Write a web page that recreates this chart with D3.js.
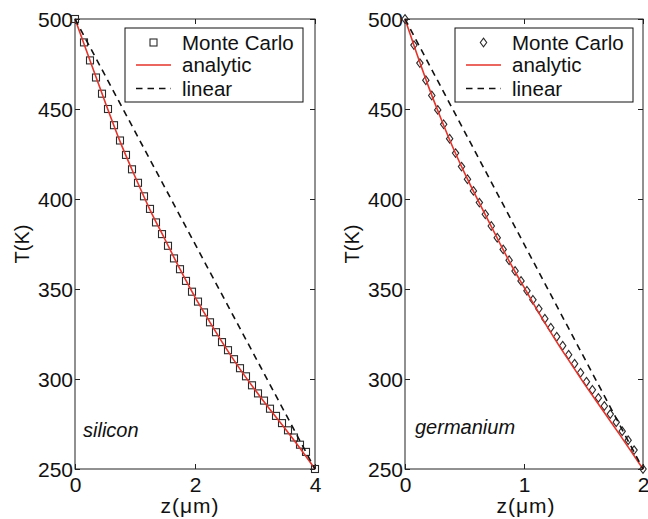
<!DOCTYPE html>
<html>
<head>
<meta charset="utf-8">
<script src="https://cdn.jsdelivr.net/npm/d3@7"></script>
<style>
  html, body { margin: 0; padding: 0; background: #fff; }
  svg { display: block; }
  text { font-family: "Liberation Sans", Arial, Helvetica, sans-serif; fill: #111; }
</style>
</head>
<body>
<svg id="chart" width="648" height="519"></svg>
<script>
// ---------------- data ----------------
const yTicks = [250, 300, 350, 400, 450, 500];

// silicon panel
const siXTicks = [0, 2, 4];
const siMcZ = [0, 0.15, 0.25, 0.35, 0.45, 0.55, 0.65, 0.75, 0.85, 0.95, 1.05, 1.15, 1.25, 1.35, 1.45, 1.55, 1.65, 1.75, 1.85, 1.95,
               2.05, 2.15, 2.25, 2.35, 2.45, 2.55, 2.65, 2.75, 2.85, 2.95, 3.05, 3.15, 3.25, 3.35, 3.45, 3.55, 3.65, 3.75, 3.85, 4.0];
const siMcT = [500, 487, 477, 467.5, 458.5, 450, 441, 432.5, 424.5, 416.5, 409, 401.5, 394.5, 387, 380.5, 374, 367, 361, 354.5, 348.5,
               343, 337, 331.5, 326, 320.5, 316, 311, 306, 301.5, 296.5, 292, 288, 283.5, 279.5, 275.5, 271.5, 267.5, 263.5, 259.5, 250];
const siAnZ = [0, 0.25, 0.5, 0.75, 1.0, 1.25, 1.5, 1.75, 2.0, 2.25, 2.5, 2.75, 3.0, 3.25, 3.5, 3.75, 4.0];
const siAnT = [500, 477, 454, 432, 412.5, 394, 377.5, 361, 345.5, 331.5, 318, 305.5, 294, 283, 272.5, 261.5, 250];
const siLinZ = [0, 4];
const siLinT = [500, 250];

// germanium panel
const geXTicks = [0, 1, 2];
const geMcZ = [0, 0.075, 0.125, 0.175, 0.225, 0.275, 0.325, 0.375, 0.425, 0.475, 0.525, 0.575, 0.625, 0.675, 0.725, 0.775, 0.825, 0.875, 0.925, 0.975,
               1.025, 1.075, 1.125, 1.175, 1.225, 1.275, 1.325, 1.375, 1.425, 1.475, 1.525, 1.575, 1.625, 1.675, 1.725, 1.775, 1.825, 1.875, 1.925, 2.0];
const geMcT = [500, 485.5, 475.5, 466, 457.5, 449.5, 441.5, 433.5, 425.5, 418, 411, 404.5, 398, 391.5, 385, 378.5, 372, 366, 360, 354.5,
               349, 344, 339, 333.5, 328.5, 323.5, 318.5, 313.5, 308.5, 303.5, 298.5, 294, 289.5, 285, 280.5, 276, 271, 266, 260.5, 250];
const geAnZ = [0, 0.1, 0.2, 0.3, 0.4, 0.5, 0.6, 0.7, 0.8, 0.9, 1.0, 1.1, 1.2, 1.3, 1.4, 1.5, 1.6, 1.7, 1.8, 1.9, 2.0];
const geAnT = [500, 480.5, 462, 445, 429, 414.5, 401, 388, 375, 362.5, 351, 339.5, 328.5, 318, 308, 298, 288.5, 279, 269.5, 259.8, 250];
const geLinZ = [0, 2];
const geLinT = [500, 250];

const legendLabels = ["Monte Carlo", "analytic", "linear"];

// ---------------- drawing ----------------
const svg = d3.select("#chart");
const RED = "#e5332a";
const AX = "#222";

const panels = [
  { x0: 75, x1: 315, zMax: 4, xTicks: siXTicks, mcZ: siMcZ, mcT: siMcT, anZ: siAnZ, anT: siAnT, linZ: siLinZ, linT: siLinT,
    marker: "square", name: "silicon", nameX: 83, nameY: 437, xLabelX: 190, yLabelX: 29 },
  { x0: 405, x1: 643, zMax: 2, xTicks: geXTicks, mcZ: geMcZ, mcT: geMcT, anZ: geAnZ, anT: geAnT, linZ: geLinZ, linT: geLinT,
    marker: "diamond", name: "germanium", nameX: 415, nameY: 434, xLabelX: 526, yLabelX: 359 }
];
const yTop = 19, yBot = 469;

panels.forEach(p => {
  const x = d3.scaleLinear().domain([0, p.zMax]).range([p.x0, p.x1]);
  const y = d3.scaleLinear().domain([250, 500]).range([yBot, yTop]);
  const g = svg.append("g");

  // frame
  g.append("rect").attr("x", p.x0).attr("y", yTop).attr("width", p.x1 - p.x0).attr("height", yBot - yTop)
    .attr("fill", "none").attr("stroke", AX).attr("stroke-width", 1);

  // axes with inward ticks
  const tl = 5;
  const bottom = g.append("g").attr("transform", `translate(0,${yBot})`)
    .call(d3.axisBottom(x).tickValues(p.xTicks).tickSize(-tl).tickPadding(8).tickFormat(d3.format("d")));
  const top = g.append("g").attr("transform", `translate(0,${yTop})`)
    .call(d3.axisTop(x).tickValues(p.xTicks).tickSize(-tl).tickFormat(""));
  const left = g.append("g").attr("transform", `translate(${p.x0},0)`)
    .call(d3.axisLeft(y).tickValues(yTicks).tickSize(-tl).tickPadding(3).tickFormat(d3.format("d")));
  const right = g.append("g").attr("transform", `translate(${p.x1},0)`)
    .call(d3.axisRight(y).tickValues(yTicks).tickSize(-tl).tickFormat(""));
  [bottom, top, left, right].forEach(a => {
    a.select(".domain").remove();
    a.selectAll(".tick line").attr("stroke", AX);
    a.selectAll("text").attr("font-family", "Liberation Sans, Arial, sans-serif").attr("font-size", 21).attr("fill", "#111");
  });
  bottom.selectAll("text").attr("dy", null).attr("y", 23);
  left.selectAll("text").attr("dy", "0.36em").attr("x", -2);

  // Monte Carlo markers
  const mc = p.mcZ.map((z, i) => [z, p.mcT[i]]);
  const drawMarker = (sel, cx, cy) => {
    if (p.marker === "square") {
      sel.append("rect").attr("x", cx - 3.5).attr("y", cy - 3.5).attr("width", 7).attr("height", 7)
        .attr("fill", "none").attr("stroke", "#2a2a2a").attr("stroke-width", 1.1);
    } else {
      sel.append("path").attr("d", `M${cx},${cy - 4.3}L${cx + 3.2},${cy}L${cx},${cy + 4.3}L${cx - 3.2},${cy}Z`)
        .attr("fill", "none").attr("stroke", "#2a2a2a").attr("stroke-width", 1.1);
    }
  };
  const mg = g.append("g");
  mc.forEach(d => drawMarker(mg, x(d[0]), y(d[1])));

  // analytic
  const line = d3.line().x(d => x(d[0])).y(d => y(d[1]));
  g.append("path").datum(p.anZ.map((z, i) => [z, p.anT[i]]))
    .attr("d", line.curve(d3.curveMonotoneX)).attr("fill", "none").attr("stroke", RED).attr("stroke-width", 1.6);

  // linear
  g.append("path").datum(p.linZ.map((z, i) => [z, p.linT[i]]))
    .attr("d", d3.line().x(d => x(d[0])).y(d => y(d[1]))).attr("fill", "none")
    .attr("stroke", "#111").attr("stroke-width", 1.6).attr("stroke-dasharray", "6.5,5");

  // legend
  const lx = p.x0 + 50, ly = 28, lw = 178, lh = 74;
  const lg = g.append("g");
  lg.append("rect").attr("x", lx).attr("y", ly).attr("width", lw).attr("height", lh)
    .attr("fill", "#fff").attr("stroke", "#111").attr("stroke-width", 1);
  const rows = [14.5, 37, 60.5];
  drawMarker(lg, lx + 28.5, ly + rows[0]);
  lg.append("line").attr("x1", lx + 11).attr("x2", lx + 46).attr("y1", ly + rows[1]).attr("y2", ly + rows[1])
    .attr("stroke", RED).attr("stroke-width", 1.6);
  lg.append("line").attr("x1", lx + 11).attr("x2", lx + 46).attr("y1", ly + rows[2]).attr("y2", ly + rows[2])
    .attr("stroke", "#111").attr("stroke-width", 1.6).attr("stroke-dasharray", "6.5,5");
  legendLabels.forEach((t, i) => {
    lg.append("text").attr("x", lx + 57).attr("y", ly + rows[i]).attr("dy", "0.36em")
      .attr("font-size", 20.5).text(t);
  });

  // material label
  g.append("text").attr("x", p.nameX).attr("y", p.nameY).attr("font-size", 20).attr("font-style", "italic").text(p.name);

  // axis labels
  g.append("text").attr("x", p.xLabelX).attr("y", 513).attr("text-anchor", "middle").attr("font-size", 21)
    .attr("letter-spacing", 1).text("z(μm)");
  g.append("text").attr("transform", `translate(${p.yLabelX},${(yTop + yBot) / 2}) rotate(-90)`)
    .attr("text-anchor", "middle").attr("font-size", 20).text("T(K)");
});
</script>
</body>
</html>
